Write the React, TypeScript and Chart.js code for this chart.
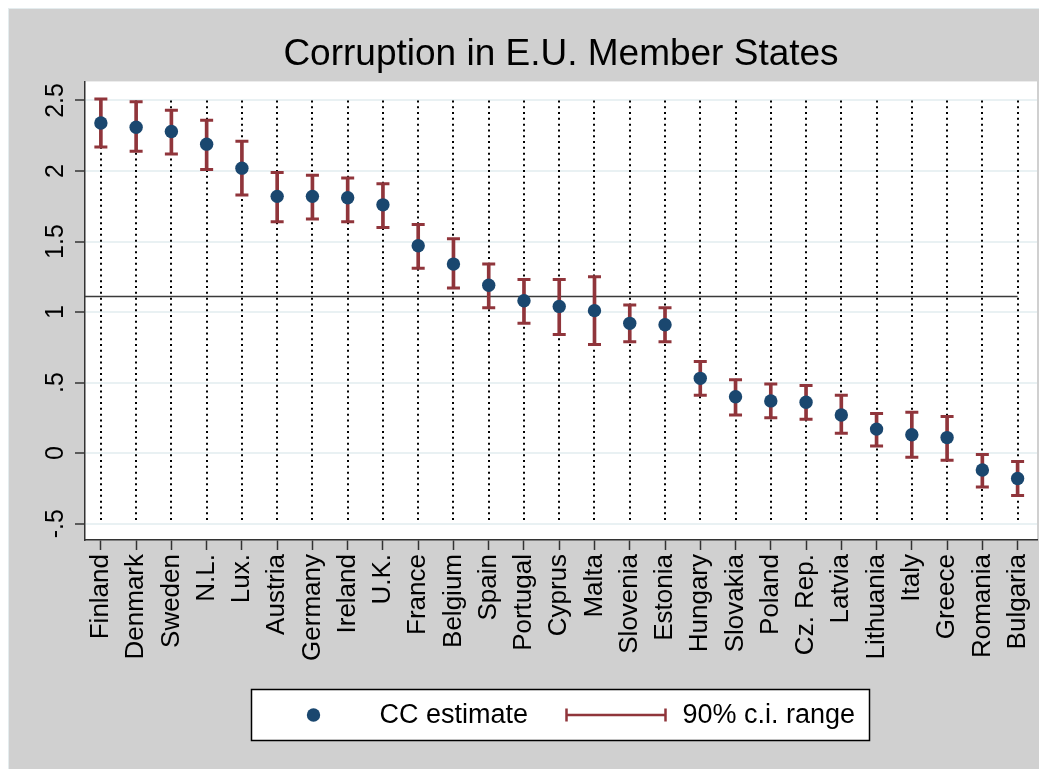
import React, { useEffect, useRef } from 'react';
import { Chart, registerables } from 'chart.js';

Chart.register(...registerables);

// ---------- data ----------
const countries = [
  'Finland', 'Denmark', 'Sweden', 'N.L.', 'Lux.', 'Austria', 'Germany', 'Ireland', 'U.K.',
  'France', 'Belgium', 'Spain', 'Portugal', 'Cyprus', 'Malta', 'Slovenia', 'Estonia',
  'Hungary', 'Slovakia', 'Poland', 'Cz. Rep.', 'Latvia', 'Lithuania', 'Italy', 'Greece',
  'Romania', 'Bulgaria',
];
const ccEstimate = [
  2.34, 2.31, 2.28, 2.19, 2.02, 1.82, 1.82, 1.81, 1.76,
  1.47, 1.34, 1.19, 1.08, 1.04, 1.01, 0.92, 0.91,
  0.53, 0.40, 0.37, 0.36, 0.27, 0.17, 0.13, 0.11,
  -0.12, -0.18,
];
const ciLower = [
  2.17, 2.14, 2.12, 2.01, 1.83, 1.64, 1.66, 1.64, 1.60,
  1.31, 1.17, 1.03, 0.92, 0.84, 0.77, 0.79, 0.79,
  0.41, 0.27, 0.25, 0.24, 0.14, 0.05, -0.03, -0.05,
  -0.24, -0.30,
];
const ciUpper = [
  2.51, 2.49, 2.43, 2.36, 2.21, 1.99, 1.97, 1.95, 1.91,
  1.62, 1.52, 1.34, 1.23, 1.23, 1.25, 1.05, 1.03,
  0.65, 0.52, 0.49, 0.48, 0.41, 0.28, 0.29, 0.26,
  -0.01, -0.06,
];
const meanLine = 1.11;
const yTickValues = [-0.5, 0, 0.5, 1, 1.5, 2, 2.5];
const yTickLabels = ['-.5', '0', '.5', '1', '1.5', '2', '2.5'];
const legendLabels = ['CC estimate', '90% c.i. range'];
const titleText = 'Corruption in E.U. Member States';

// ---------- style ----------
const FONT = "'Liberation Sans', Arial, Helvetica, sans-serif";
const dotColor = '#1a476f';
const ciColor = '#90353b';
const bgGray = '#d0d0d0';
const gridColor = '#e9f1f3';
const axisColor = '#333333';
const xMin = -0.45;
const xMax = 26.55;
const yMin = -0.616;
const yMax = 2.635;
const CANVAS_W = 1060;
const CANVAS_H = 780;
const EXTRA_RIGHT = CANVAS_W - 1039;
const EXTRA_BOTTOM = CANVAS_H - 761;

const backgroundPlugin = {
  id: 'stataBackground',
  beforeDraw(chart: any) {
    const { ctx, chartArea, width, height } = chart;
    ctx.save();
    ctx.fillStyle = bgGray;
    ctx.fillRect(0, 0, width, height);
    ctx.strokeStyle = '#e4ecee';
    ctx.lineWidth = 1;
    ctx.strokeRect(0.5, 0.5, width + 2, height + 2);
    ctx.fillStyle = '#ffffff';
    ctx.fillRect(chartArea.left, chartArea.top, chartArea.right - chartArea.left, chartArea.bottom - chartArea.top);
    ctx.restore();
  },
};

const dottedLinesPlugin = {
  id: 'dottedLines',
  beforeDatasetsDraw(chart: any) {
    const { ctx } = chart;
    const xs = chart.scales.x;
    const ys = chart.scales.y;
    const yTop = ys.getPixelForValue(yTickValues[yTickValues.length - 1]);
    const yBot = ys.getPixelForValue(yTickValues[0]);
    ctx.save();
    ctx.setLineDash([2, 3.8]);
    ctx.lineWidth = 2;
    ctx.strokeStyle = '#000000';
    countries.forEach((_, i) => {
      const x = Math.round(xs.getPixelForValue(i));
      ctx.beginPath();
      ctx.moveTo(x, yTop);
      ctx.lineTo(x, yBot);
      ctx.stroke();
    });
    ctx.restore();
  },
};

const legendPlugin = {
  id: 'stataLegend',
  afterDraw(chart: any) {
    const { ctx, chartArea } = chart;
    const cx = (chartArea.left + chartArea.right) / 2 - 1.5;
    const w = 618;
    const h = 51;
    const left = Math.round(cx - w / 2) + 0.5;
    const top = chartArea.bottom + 149.5;
    const my = top + h / 2;
    ctx.save();
    ctx.fillStyle = '#ffffff';
    ctx.fillRect(left, top, w, h);
    ctx.strokeStyle = '#000000';
    ctx.lineWidth = 1.5;
    ctx.strokeRect(left, top, w, h);

    ctx.fillStyle = dotColor;
    ctx.beginPath();
    ctx.arc(left + 62, my, 6.7, 0, Math.PI * 2);
    ctx.fill();

    ctx.fillStyle = '#000000';
    ctx.font = `27px ${FONT}`;
    ctx.textBaseline = 'middle';
    ctx.textAlign = 'left';
    ctx.fillText(legendLabels[0], left + 128, my + 1);

    ctx.strokeStyle = ciColor;
    ctx.lineWidth = 2.5;
    ctx.beginPath();
    ctx.moveTo(left + 315, my);
    ctx.lineTo(left + 414, my);
    ctx.moveTo(left + 315, my - 6.5);
    ctx.lineTo(left + 315, my + 6.5);
    ctx.moveTo(left + 414, my - 6.5);
    ctx.lineTo(left + 414, my + 6.5);
    ctx.stroke();

    ctx.fillStyle = '#000000';
    ctx.fillText(legendLabels[1], left + 431, my + 1);
    ctx.restore();
  },
};

export default function App() {
  const ref = useRef<HTMLCanvasElement>(null);

  useEffect(() => {
    if (!ref.current) return;
    const prevHtml = document.documentElement.style.overflow;
    const prevBody = document.body.style.overflow;
    document.documentElement.style.overflow = 'hidden';
    document.body.style.overflow = 'hidden';
    const last = countries.length - 1;
    const chart = new Chart(ref.current, {
      type: 'scatter',
      data: {
        datasets: [
          {
            type: 'scatter',
            label: legendLabels[0],
            data: ccEstimate.map((v, i) => ({ x: i, y: v })),
            pointRadius: 6.7,
            pointHoverRadius: 6.7,
            backgroundColor: dotColor,
            borderWidth: 0,
          } as any,
          {
            type: 'scatter',
            label: 'upper',
            data: ciUpper.map((v, i) => ({ x: i, y: v })),
            pointStyle: 'line',
            pointRadius: 6.5,
            borderColor: ciColor,
            borderWidth: 3,
          } as any,
          {
            type: 'scatter',
            label: 'lower',
            data: ciLower.map((v, i) => ({ x: i, y: v })),
            pointStyle: 'line',
            pointRadius: 6.5,
            borderColor: ciColor,
            borderWidth: 3,
          } as any,
          {
            type: 'bar',
            label: legendLabels[1],
            data: countries.map((_, i) => ({ x: i, y: [ciLower[i], ciUpper[i]] })),
            backgroundColor: ciColor,
            barThickness: 3,
            borderWidth: 0,
            grouped: false,
          } as any,
          {
            type: 'line',
            label: 'mean',
            data: [{ x: xMin, y: meanLine }, { x: last, y: meanLine }],
            borderColor: '#3a3a3a',
            borderWidth: 1.5,
            pointRadius: 0,
            fill: false,
          } as any,
        ],
      },
      options: {
        responsive: false,
        animation: false,
        events: [],
        layout: { padding: { left: 0, right: 10 + EXTRA_RIGHT, top: 0, bottom: 79 + EXTRA_BOTTOM } },
        plugins: {
          legend: { display: false },
          tooltip: { enabled: false },
          title: {
            display: true,
            text: titleText,
            fullSize: false,
            color: '#000000',
            font: { family: FONT, size: 37, weight: 'normal' },
            padding: { top: 25, bottom: 4 },
          },
        },
        scales: {
          x: {
            type: 'linear',
            min: xMin,
            max: xMax,
            offset: false,
            afterBuildTicks: (scale: any) => {
              scale.ticks = countries.map((_, i) => ({ value: i }));
            },
            afterFit: (scale: any) => {
              scale.height = 150;
              scale.paddingLeft = 0;
              scale.paddingRight = 0;
            },
            grid: {
              offset: false,
              drawOnChartArea: false,
              drawTicks: true,
              tickLength: 10,
              tickColor: axisColor,
              tickWidth: 1.5,
            },
            border: { display: true, color: axisColor, width: 1.5 },
            ticks: {
              autoSkip: false,
              minRotation: 90,
              maxRotation: 90,
              padding: 4,
              color: '#000000',
              font: { family: FONT, size: 26 },
              callback: (_v: any, i: number) => countries[i],
            },
          },
          y: {
            type: 'linear',
            min: yMin,
            max: yMax,
            afterBuildTicks: (scale: any) => {
              scale.ticks = yTickValues.map((v) => ({ value: v }));
            },
            afterFit: (scale: any) => {
              scale.width = 77;
              scale.paddingTop = 0;
              scale.paddingBottom = 0;
            },
            grid: {
              color: gridColor,
              lineWidth: 2,
              drawTicks: true,
              tickLength: 10,
              tickColor: axisColor,
              tickWidth: 1.5,
            },
            border: { display: true, color: axisColor, width: 1.5 },
            ticks: {
              minRotation: 90,
              maxRotation: 90,
              crossAlign: 'center',
              padding: 2,
              color: '#000000',
              font: { family: FONT, size: 25 },
              callback: (_v: any, i: number) => yTickLabels[i],
            },
          },
        },
      } as any,
      plugins: [backgroundPlugin, dottedLinesPlugin, legendPlugin],
    });
    return () => {
      chart.destroy();
      document.documentElement.style.overflow = prevHtml;
      document.body.style.overflow = prevBody;
    };
  }, []);

  return (
    <div style={{ width: CANVAS_W, height: CANVAS_H, background: bgGray }}>
      <canvas ref={ref} width={CANVAS_W} height={CANVAS_H} style={{ display: 'block' }} />
    </div>
  );
}
